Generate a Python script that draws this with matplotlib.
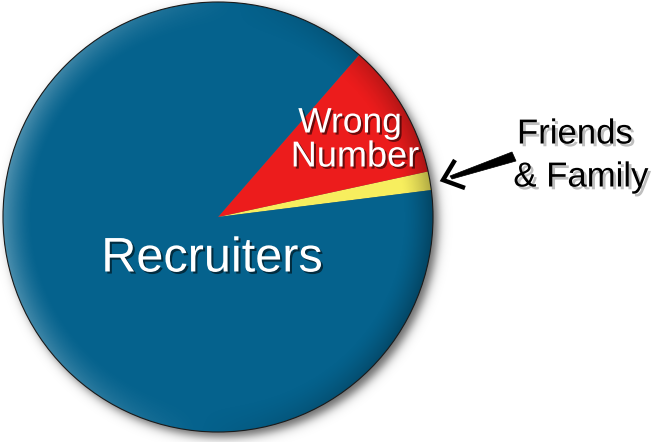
import numpy as np
import matplotlib
matplotlib.use('Agg')
from matplotlib import pyplot as plt
from matplotlib.patches import Circle, Polygon
import matplotlib.patheffects as pe

# Data
labels = ['Friends & Family', 'Wrong Number', 'Recruiters']
shares = [1.4, 10.2, 88.4]
colors = ['#f7ee5e', '#ec1c1c', '#05628d']

plt.rcParams['font.family'] = ['Liberation Sans', 'DejaVu Sans']

W, H = 657, 442
cx, cy, R = 218, 225, 215

fig = plt.figure(figsize=(W / 100, H / 100), dpi=100)
ax = fig.add_axes([0, 0, 1, 1])

# drop shadow under the disc
yy, xx = np.mgrid[0:H, 0:W] + 0.5
d = np.hypot(xx - (cx + 5), yy - (cy - 5))
shadow = np.zeros((H, W, 4))
shadow[..., 3] = 0.6 / (1 + np.exp((d - R) / 3.0))
ax.imshow(shadow, extent=(0, W, 0, H), origin='lower', zorder=0)

wedges, _ = ax.pie(shares, colors=colors, startangle=7.2, center=(cx, cy),
                   radius=R, wedgeprops=dict(linewidth=0))
for w in wedges:
    w.set_zorder(1)

# bevel: light on the left rim, darker on the right rim
dd = np.hypot(xx - cx, yy - cy) / R
theta = np.arctan2(yy - cy, xx - cx)
t = np.clip((dd - 0.86) / 0.14, 0, 1) ** 1.5
shade = np.cos(theta - np.deg2rad(175))
bevel = np.zeros((H, W, 4))
light = shade > 0
bevel[light, :3] = 1.0
bevel[..., 3] = np.where(light, 0.30 * t * shade, 0.30 * t * (-shade))
im = ax.imshow(bevel, extent=(0, W, 0, H), origin='lower', zorder=2)
clip = Circle((cx, cy), R, transform=ax.transData)
im.set_clip_path(clip)

ax.add_patch(Circle((cx, cy), R, fill=False, ec='#1a1a1a', lw=0.8, zorder=3))

shadow_fx = [pe.SimplePatchShadow(offset=(1.5, -1.5), shadow_rgbFace='black', alpha=0.55),
             pe.Normal()]

ax.text(212, H - 259, 'Recruiters', color='white', fontsize=35,
        ha='center', va='center', path_effects=shadow_fx, zorder=4)
ax.text(350, H - 123, 'Wrong', color='white', fontsize=25.5,
        ha='center', va='center', path_effects=shadow_fx, zorder=4)
ax.text(355, H - 157, 'Number', color='white', fontsize=26,
        ha='center', va='center', path_effects=shadow_fx, zorder=4)

blur_fx = [pe.SimplePatchShadow(offset=(2, -2), shadow_rgbFace='gray', alpha=0.5),
           pe.Normal()]
ax.text(575, H - 134, 'Friends', color='black', fontsize=25,
        ha='center', va='center', path_effects=blur_fx, zorder=4)
ax.text(581, H - 177, '& Family', color='black', fontsize=25,
        ha='center', va='center', path_effects=blur_fx, zorder=4)

# arrow pointing at the thin yellow slice: tapered shaft + open head
ax.add_patch(Polygon([(512, H - 152), (516, H - 161), (452, H - 179), (450, H - 176)],
                     closed=True, fc='black', ec='black', lw=0.5, zorder=5))
ax.plot([455, 443, 465], [H - 160, H - 180, H - 188], color='black', lw=3.2,
        solid_joinstyle='miter', solid_capstyle='butt', zorder=5)

ax.set_xlim(0, W)
ax.set_ylim(0, H)
ax.set_aspect('equal')
ax.axis('off')

fig.savefig('out.png', dpi=100, facecolor='white')
